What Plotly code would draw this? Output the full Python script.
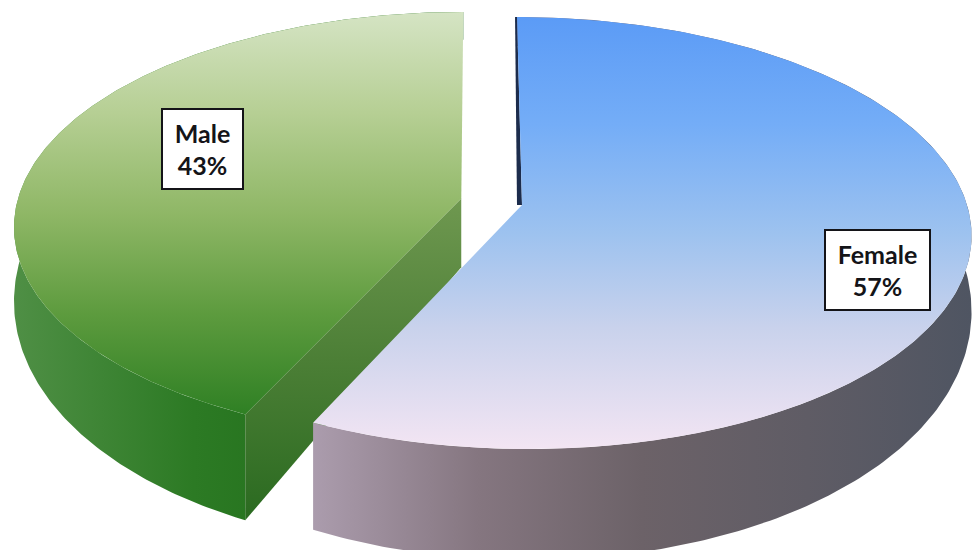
import numpy as np
import plotly.graph_objects as go

# ---- data -------------------------------------------------------------
labels = ["Female", "Male"]
shares = [57, 43]                      # percent of respondents

# ---- styling ----------------------------------------------------------
W, H = 976, 550

# tilted-disc projection (unit disc: X to the right, Z away from viewer)
CX, CY = 522.0, 205.0      # screen position of the pie centre
AX, BZ = 445.0, 212.4      # horizontal / depth radii
PK, SH = 0.1296, -5.6      # perspective strength, slight horizontal shear


def project(X, Z):
    d = 1.0 + PK * Z
    return CX + (AX * X + SH * Z) / d, CY - BZ * Z / d


def thickness(Z):
    # side wall height in pixels, taller towards the viewer
    return 70.0 - 41.0 * Z


explode = {"Female": 0.0, "Male": 0.14}
label_pos = {"Female": (111.0, 0.82), "Male": (292.0, 0.65)}   # (angle deg, radius)
label_box = {"Female": (87, 62), "Male": (63, 62)}              # inner width, height

styles = {
    "Female": dict(
        top=[[0, "#5b9bf6"], [0.25, "#74adf7"], [0.5, "#9dc2ef"],
             [0.72, "#c9d2ec"], [1, "#f3e5f3"]],
        side=[[0, "#ab9cad"], [0.25, "#857680"], [0.5, "#6c6268"],
              [0.75, "#5f5c65"], [1, "#4f5562"]],
        edge="#1c2c4c",
    ),
    "Male": dict(
        top=[[0, "#d5e4c4"], [0.25, "#b6cf94"], [0.5, "#8fb766"],
             [0.75, "#5d9b3e"], [1, "#2f8024"]],
        side=[[0, "#4f8f45"], [0.4, "#2c7a24"], [1, "#196614"]],
        wall=[[0, "#6f9850"], [0.5, "#4c7f36"], [1, "#2a6a20"]],
    ),
}


def poly(x, y, scale, kind):
    x = np.asarray(x, float)
    y = np.asarray(y, float)
    lo, hi = (x.min(), x.max()) if kind == "horizontal" else (y.min(), y.max())
    return go.Scatter(
        x=np.append(x, x[0]), y=np.append(y, y[0]),
        mode="lines", line=dict(width=0), fill="toself",
        fillgradient=dict(type=kind, colorscale=scale, start=lo, stop=hi),
        hoverinfo="skip", showlegend=False,
    )


# slice angles, clockwise from 12 o'clock
bounds = np.concatenate([[0.0], np.cumsum(shares) / np.sum(shares) * 360.0])
slices = {lab: (bounds[i], bounds[i + 1]) for i, lab in enumerate(labels)}

fig = go.Figure()
annotations = []

# draw the exploded (rear-left) slice first, then the front slice
for lab in ["Male", "Female"]:
    a0, a1 = slices[lab]
    mid = np.radians((a0 + a1) / 2)
    ox, oz = explode[lab] * np.sin(mid), explode[lab] * np.cos(mid)
    th = np.radians(np.linspace(a0, a1, 240))
    X, Z = ox + np.sin(th), oz + np.cos(th)
    sx, sy = project(X, Z)
    by = sy + thickness(Z)
    cx, cy = project(ox, oz)
    cby = cy + thickness(oz)
    st = styles[lab]

    # outer curved side
    fig.add_trace(poly(np.concatenate([sx, sx[::-1]]),
                       np.concatenate([sy, by[::-1]]), st["side"], "horizontal"))

    # cut wall along the slice's first edge (facing the viewer)
    if "wall" in st:
        fig.add_trace(poly([cx, sx[0], sx[0], cx],
                           [cy, sy[0], by[0], cby], st["wall"], "vertical"))

    # thin dark wall along the 12 o'clock edge
    if "edge" in st:
        fig.add_trace(go.Scatter(
            x=[sx[0], cx, cx - 5, sx[0] - 2, sx[0]],
            y=[sy[0], cy, cy, sy[0], sy[0]],
            mode="lines", line=dict(width=0), fill="toself",
            fillcolor=st["edge"], hoverinfo="skip", showlegend=False))

    # top face
    fig.add_trace(poly(np.concatenate([[cx], sx]),
                       np.concatenate([[cy], sy]), st["top"], "vertical"))

    # data label
    ang, rad = label_pos[lab]
    lx, ly = project(ox + rad * np.sin(np.radians(ang)),
                     oz + rad * np.cos(np.radians(ang)))
    pct = shares[labels.index(lab)]
    bw, bh = label_box[lab]
    annotations.append(dict(
        x=lx, y=ly, xref="x", yref="y", showarrow=False,
        text=f"<b>{lab}<br>{pct}%</b>",
        font=dict(family="Lato, 'Open Sans', sans-serif", size=25, color="#141418"),
        bgcolor="#ffffff", bordercolor="#141418", borderwidth=2, borderpad=8,
        width=bw, height=bh, align="center", valign="middle",
    ))

fig.update_layout(
    width=W, height=H, margin=dict(l=0, r=0, t=0, b=0),
    paper_bgcolor="#ffffff", plot_bgcolor="#ffffff",
    xaxis=dict(range=[0, W], visible=False, fixedrange=True),
    yaxis=dict(range=[H, 0], visible=False, fixedrange=True),
    annotations=annotations, showlegend=False,
)

fig.write_html("out.html")
